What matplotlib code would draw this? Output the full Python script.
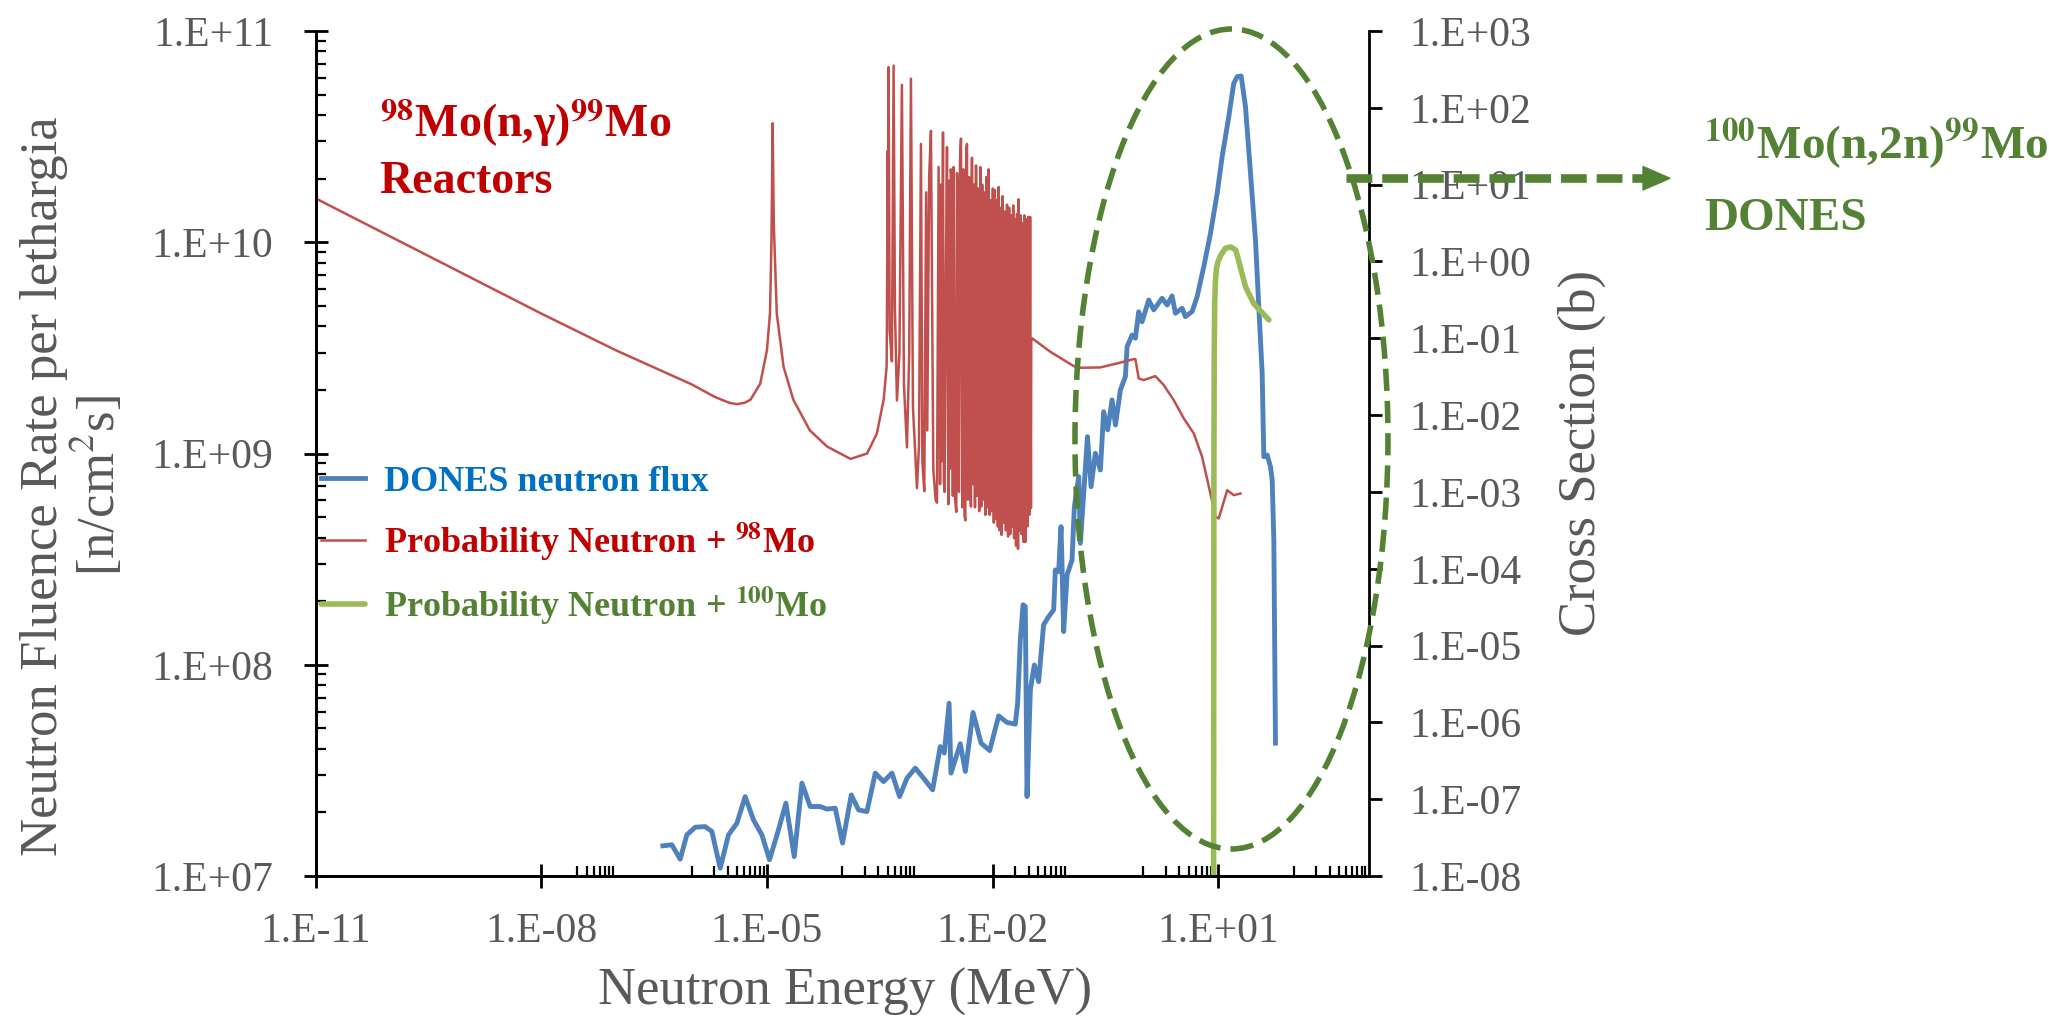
"""DONES neutron flux vs. Mo cross sections (log-log, twin y axes)."""
import numpy as np
import matplotlib
matplotlib.use("Agg")
import matplotlib.pyplot as plt
from matplotlib.patches import Ellipse, Polygon
from matplotlib.lines import Line2D
from matplotlib.font_manager import FontProperties
from matplotlib.ticker import (FixedLocator, LogLocator, FuncFormatter,
                               NullLocator, NullFormatter)

plt.rcParams["font.family"] = ["Liberation Serif", "DejaVu Serif"]
plt.rcParams["mathtext.fontset"] = "stix"

# ── data (log10 of energy in MeV, flux in n/cm2s, cross section in b) ─────────

blue_log_e = [
    -6.384, -6.265, -6.154, -6.065, -5.955, -5.822, -5.733, -5.622, -5.512, -5.400,
    -5.290, -5.180, -5.068, -4.967, -4.860, -4.749, -4.638, -4.536, -4.426, -4.293,
    -4.204, -4.093, -3.996, -3.880, -3.783, -3.672, -3.561, -3.451, -3.339, -3.238,
    -3.140, -3.029, -2.919, -2.799, -2.697, -2.644, -2.580, -2.555, -2.431, -2.364,
    -2.262, -2.155, -2.041, -1.921, -1.810, -1.700, -1.669, -1.633, -1.597, -1.567,
    -1.544, -1.500, -1.447, -1.390, -1.324, -1.257, -1.190, -1.168, -1.124, -1.092,
    -1.057, -1.012, -0.946, -0.915, -0.857, -0.835, -0.741, -0.693, -0.636, -0.569,
    -0.526, -0.472, -0.414, -0.369, -0.303, -0.237, -0.214, -0.148, -0.104, -0.060,
    -0.015, 0.073, 0.140, 0.251, 0.318, 0.384, 0.428, 0.517, 0.561, 0.650,
    0.717, 0.805, 0.894, 0.983, 1.049, 1.137, 1.203, 1.249, 1.302, 1.359,
    1.426, 1.492, 1.536, 1.581, 1.603, 1.648, 1.691, 1.714, 1.736, 1.758,
]
blue_log_flux = [
    7.143, 7.148, 7.080, 7.195, 7.231, 7.234, 7.211, 7.037, 7.195, 7.250,
    7.376, 7.266, 7.195, 7.077, 7.203, 7.345, 7.092, 7.440, 7.329, 7.329,
    7.317, 7.321, 7.156, 7.384, 7.313, 7.305, 7.487, 7.447, 7.487, 7.376,
    7.463, 7.511, 7.463, 7.408, 7.613, 7.582, 7.818, 7.487, 7.626, 7.495,
    7.774, 7.629, 7.594, 7.758, 7.727, 7.719, 7.818, 8.118, 8.284, 8.276,
    7.376, 7.881, 7.999, 7.920, 8.189, 8.228, 8.260, 8.449, 8.441, 8.654,
    8.157, 8.425, 8.496, 8.749, 8.891, 8.575, 9.080, 8.843, 9.001, 8.922,
    9.198, 9.112, 9.254, 9.135, 9.301, 9.364, 9.506, 9.561, 9.546, 9.671,
    9.624, 9.727, 9.680, 9.735, 9.703, 9.746, 9.664, 9.688, 9.648, 9.672,
    9.743, 9.885, 10.042, 10.232, 10.405, 10.594, 10.752, 10.784, 10.787, 10.642,
    10.327, 10.011, 9.695, 9.380, 8.985, 8.993, 8.938, 8.875, 8.591, 7.629,
]

# 98Mo(n,g): 1/v part, 12 eV resonance, resolved resonances, fast region
red_log_e = [
    -11.0, -10.0, -9.0, -8.0, -7.0, -6.5, -6.0, -5.7, -5.5, -5.4,
    -5.3, -5.22, -5.09, -5.00, -4.96, -4.94, -4.925, -4.91, -4.87, -4.78,
    -4.65, -4.43, -4.20, -3.89, -3.67, -3.54, -3.45, -3.41,
    -3.405, -3.397, -3.390, -3.384, -3.370, -3.340, -3.317, -3.300, -3.273, -3.240,
    -3.207, -3.180, -3.140, -3.110, -3.087, -3.060, -3.007, -2.980, -2.954, -2.935,
    -2.910, -2.885, -2.870, -2.845, -2.821, -2.790, -2.760, -2.741, -2.719, -2.700,
    -2.690, -2.680, -2.661, -2.650, -2.640, -2.625, -2.608, -2.590, -2.580, -2.570,
    -2.558, -2.545, -2.530, -2.520, -2.500, -2.484, -2.475, -2.465, -2.450, -2.435,
    -2.422, -2.405, -2.390, -2.375, -2.364, -2.352, -2.342,
    -2.330, -2.315, -2.300, -2.289, -2.276, -2.262, -2.250, -2.236, -2.222, -2.208,
    -2.195, -2.180, -2.165, -2.152, -2.140, -2.126, -2.112, -2.098, -2.085, -2.070,
    -2.054, -2.040, -2.026, -2.012, -1.998, -1.985, -1.972, -1.958, -1.945, -1.932,
    -1.921, -1.908, -1.895, -1.882, -1.868, -1.855, -1.840, -1.825, -1.810, -1.796,
    -1.782, -1.768, -1.754, -1.740, -1.728, -1.716, -1.703, -1.690, -1.677, -1.664,
    -1.655, -1.642, -1.630, -1.616, -1.603, -1.590, -1.580, -1.566, -1.553, -1.540,
    -1.528, -1.515, -1.503, -1.492, -1.488,
    -1.477, -1.234, -0.924, -0.835, -0.569, -0.347, -0.126, -0.104, -0.060, 0.007,
    0.162, 0.273, 0.406, 0.539, 0.672, 0.783, 0.893, 0.960, 1.004, 1.116,
    1.203, 1.293,
]
red_log_xs = [
    0.822, 0.322, -0.178, -0.678, -1.16, -1.38, -1.60, -1.76, -1.84, -1.857,
    -1.84, -1.80, -1.59, -1.15, -0.67, 0.30, 1.80, 0.50, -0.68, -1.37,
    -1.80, -2.20, -2.41, -2.57, -2.50, -2.24, -1.80, -1.37,
    -0.60, 1.44, 0.20, 2.53, -0.90, -1.30, 2.55, -0.60, -1.81, -1.20,
    2.30, -1.60, -2.42, -1.20, 2.38, -1.90, -2.95, -2.40, 1.53, -2.60,
    -2.99, 0.90, -2.20, 1.10, 1.70, -2.70, -3.10, -3.14, 1.23, -2.90,
    1.00, -2.60, 1.68, -2.85, -3.00, -0.50, 1.49, -3.16, 1.05, -2.70,
    1.20, 1.10, -3.05, 1.23, -3.10, -3.26, 1.15, 0.90, -3.00, 1.30,
    1.60, -3.20, 1.20, -3.30, -3.37, 1.45, 1.53,
    -3.10, 1.10, -3.00, -3.19, 1.35, -2.90, 1.00, -3.20, 1.25, -3.05,
    0.95, -3.25, 1.23, -3.19, 1.00, -3.10, 0.90, -3.30, 1.10, -3.20,
    1.20, -3.30, 0.80, -3.25, 0.95, -3.40, 0.93, -3.35, 0.80, -3.45,
    0.97, -3.50, 0.70, -3.56, 0.85, -3.40, 0.65, -3.50, 0.74, -3.58,
    0.70, -3.55, 0.60, -3.45, 0.73, -3.60, 0.55, -3.70, 0.62, -3.74,
    0.81, -3.50, 0.60, -3.55, 0.50, -3.65, 0.60, -3.65, 0.55, -3.45,
    0.58, -3.30, 0.58, -3.21, -1.00,
    -1.00, -1.176, -1.362, -1.384, -1.379, -1.327, -1.271, -1.271, -1.522, -1.544,
    -1.492, -1.609, -1.805, -2.043, -2.238, -2.543, -3.02, -3.324, -3.345, -2.977,
    -3.042, -3.02,
]

# 100Mo(n,2n) threshold reaction
green_log_e = [0.935, 0.938, 0.940, 0.944, 0.950, 0.960, 0.975, 0.995,
               1.03, 1.09, 1.16, 1.23, 1.29, 1.36, 1.47, 1.67]
green_log_xs = [-8.0, -5.0, -2.5, -1.2, -0.55, -0.25, -0.08, 0.0,
                0.08, 0.17, 0.19, 0.15, -0.07, -0.33, -0.55, -0.76]

series_labels = [
    "DONES neutron flux",
    r"Probability Neutron + $^{\mathbf{98}}$Mo",
    r"Probability Neutron + $^{\mathbf{100}}$Mo",
]
x_major = [1e-11, 1e-8, 1e-5, 1e-2, 1e1]
x_minor_decades = [-10, -8, -6, -4, -2, 0, 2]

# ── colours ──────────────────────────────────────────────────────────────────
_BLUE = "#4F81BD"
_RED = "#C0504D"
_GREEN = "#9BBB59"
_BLUE_TXT = "#0070C0"
_RED_TXT = "#C00000"
_DGREEN = "#548235"
_GREY = "#595959"

W, H = 2049, 1024
fig = plt.figure(figsize=(W / 100, H / 100), dpi=100)
ax = fig.add_axes([0.1540, 0.1445, 0.5141, 0.8252])
ax2 = ax.twinx()

ax.set_xscale("log")
ax.set_yscale("log")
ax2.set_yscale("log")

l_blue, = ax.plot(10 ** np.array(blue_log_e), 10 ** np.array(blue_log_flux),
                  color=_BLUE, lw=3.5, solid_joinstyle="round")
l_red, = ax2.plot(10 ** np.array(red_log_e), 10 ** np.array(red_log_xs),
                  color=_RED, lw=1.8, solid_joinstyle="round")
l_green, = ax2.plot(10 ** np.array(green_log_e), 10 ** np.array(green_log_xs),
                    color=_GREEN, lw=4.0, solid_joinstyle="round",
                    solid_capstyle="round")

ax.set_xlim(1e-11, 1e3)
ax.set_ylim(1e7, 1e11)
ax2.set_ylim(1e-8, 1e3)

# ── ticks (Excel-like) ───────────────────────────────────────────────────────
def _excel_exp(v, pos):
    e = int(round(np.log10(v)))
    return "1.E%+03d" % e

x_minor = [k * 10.0 ** d for d in x_minor_decades for k in range(1, 10)
           if not any(np.isclose(k * 10.0 ** d, m) for m in x_major)]
ax.xaxis.set_major_locator(FixedLocator(x_major))
ax.xaxis.set_minor_locator(FixedLocator(x_minor))
ax.xaxis.set_major_formatter(FuncFormatter(_excel_exp))
ax.xaxis.set_minor_formatter(NullFormatter())
ax.yaxis.set_major_locator(LogLocator(base=10, numticks=20))
ax.yaxis.set_minor_locator(LogLocator(base=10, subs=range(2, 10), numticks=20))
ax.yaxis.set_major_formatter(FuncFormatter(_excel_exp))
ax.yaxis.set_minor_formatter(NullFormatter())
ax2.yaxis.set_major_locator(LogLocator(base=10, numticks=30))
ax2.yaxis.set_minor_locator(NullLocator())
ax2.yaxis.set_major_formatter(FuncFormatter(_excel_exp))

ax.tick_params(axis="x", which="major", direction="inout", length=17, width=2,
               pad=18, labelsize=30, labelcolor=_GREY)
ax.tick_params(axis="y", which="major", direction="inout", length=17, width=2,
               pad=22, labelsize=30, labelcolor=_GREY)
ax.tick_params(which="minor", direction="in", length=7, width=1.6)
ax2.tick_params(axis="y", which="major", direction="out", length=9, width=2,
                pad=20, labelsize=30, labelcolor=_GREY)

for a in (ax, ax2):
    a.spines["top"].set_visible(False)
    for s in a.spines.values():
        s.set_linewidth(2)
ax.spines["right"].set_visible(False)

# ── axis titles ──────────────────────────────────────────────────────────────
fig.text(73 / W, 1 - 486 / H, "Neutron Fluence Rate per lethargia\n[n/cm$^{2}$s]",
         rotation=90, ha="center", va="center", fontsize=38, color=_GREY,
         linespacing=1.05, multialignment="center")
fig.text(1582 / W, 1 - 453 / H, "Cross Section (b)", rotation=90,
         ha="center", va="center", fontsize=38, color=_GREY)
fig.text(845 / W, 1 - 1005 / H, "Neutron Energy (MeV)", ha="center",
         va="baseline", fontsize=38, color=_GREY)

# ── annotations ──────────────────────────────────────────────────────────────
fig.text(379.5 / W, 1 - 137 / H, r"$^{\mathbf{98}}$Mo(n,γ)$^{\mathbf{99}}$Mo",
         fontsize=33, fontweight="bold", color=_RED_TXT, va="baseline")
fig.text(379.5 / W, 1 - 193 / H, "Reactors",
         fontsize=33, fontweight="bold", color=_RED_TXT, va="baseline")
fig.text(1704 / W, 1 - 159 / H, r"$^{\mathbf{100}}$Mo(n,2n)$^{\mathbf{99}}$Mo",
         fontsize=34, fontweight="bold", color=_DGREEN, va="baseline")
fig.text(1704 / W, 1 - 230 / H, "DONES",
         fontsize=34, fontweight="bold", color=_DGREEN, va="baseline")

ell = Ellipse((0.8695, 0.5172), 0.2971, 0.9704, transform=ax2.transAxes,
              fill=False, ec=_DGREEN, lw=4, ls=(0, (4, 1.8)), clip_on=False,
              zorder=5)
ax2.add_patch(ell)

ay = 1 - 178.3 / H
fig.add_artist(Line2D([1346 / W, 1645 / W], [ay, ay], transform=fig.transFigure,
                      color=_DGREEN, lw=6.2, linestyle=(0, (3.0, 1.15))))
fig.add_artist(Polygon([[1643 / W, 1 - 166.5 / H], [1670 / W, ay],
                        [1643 / W, 1 - 190 / H]], closed=True,
                       transform=fig.transFigure, color=_DGREEN))

# ── legend ───────────────────────────────────────────────────────────────────
leg = ax2.legend([l_blue, l_red, l_green], series_labels, loc="center left",
                 bbox_to_anchor=(0.005, 0.3905), frameon=False,
                 prop=FontProperties(family="Liberation Serif", weight="bold", size=26),
                 handlelength=1.22, handletextpad=0.53, labelspacing=0.6,
                 borderpad=0, borderaxespad=0)
for t, c in zip(leg.get_texts(), [_BLUE_TXT, _RED_TXT, _DGREEN]):
    t.set_color(c)

fig.savefig("out.png", dpi=100)
plt.close(fig)
